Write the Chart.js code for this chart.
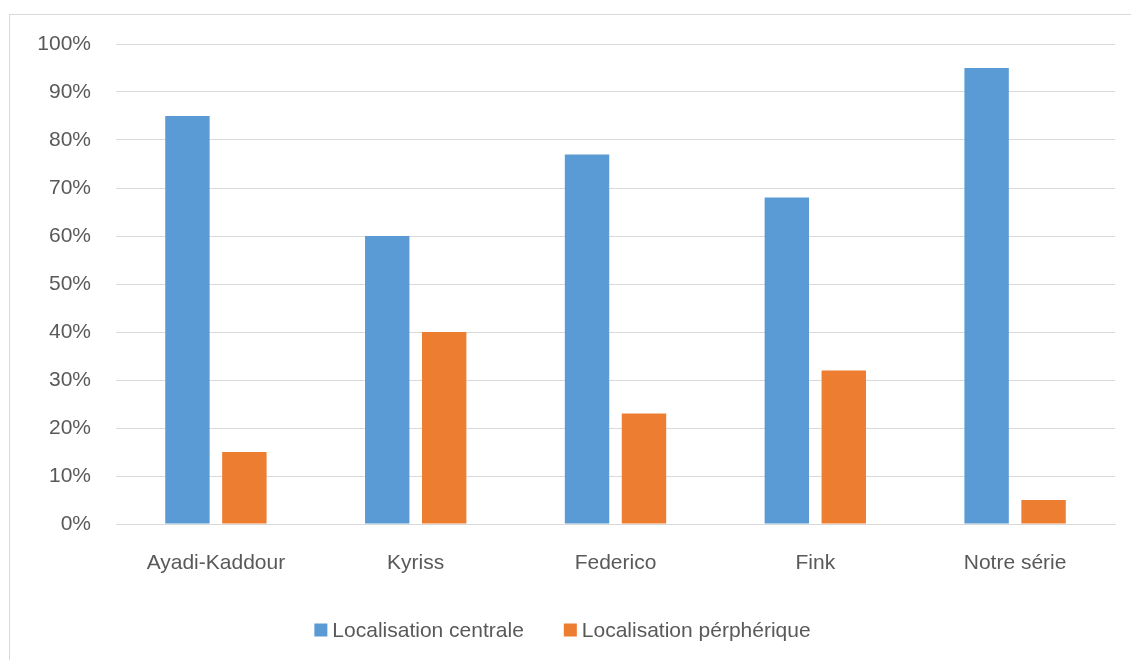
<!DOCTYPE html>
<html>
<head>
<meta charset="utf-8">
<script src="https://cdn.jsdelivr.net/npm/chart.js@4.4.1/dist/chart.umd.min.js"></script>
<style>
  html, body { margin: 0; padding: 0; background: #ffffff; }
  #wrap { position: relative; width: 1131px; height: 660px; overflow: hidden; }
  #frame { position: absolute; left: 9px; top: 14px; width: 1140px; height: 660px;
           border: 1px solid #d9d9d9; box-sizing: border-box; }
  #c { position: absolute; left: 0; top: 0; }
</style>
</head>
<body>
<div id="wrap">
  <div id="frame"></div>
  <canvas id="c" width="1131" height="660"></canvas>
</div>
<script>
const categories = ['Ayadi-Kaddour', 'Kyriss', 'Federico', 'Fink', 'Notre série'];
const centrale = [85, 60, 77, 68, 95];
const peripherique = [15, 40, 23, 32, 5];
const seriesNames = ['Localisation centrale', 'Localisation pérphérique'];
const seriesColors = ['#5b9bd5', '#ed7d31'];
const yTicks = [0, 10, 20, 30, 40, 50, 60, 70, 80, 90, 100];

const FONT = "'Liberation Sans', Arial, sans-serif";
const FONT_SIZE = 21;
const TEXT = '#595959';

// Legend row drawn under the axis: square swatch, short gap, series name
const bottomLegend = {
  id: 'bottomLegend',
  afterDraw(chart) {
    const ctx = chart.ctx;
    const box = 13, gap = 5, itemGap = 40, cy = 630;
    ctx.save();
    ctx.font = FONT_SIZE + 'px ' + FONT;
    ctx.textBaseline = 'middle';
    ctx.textAlign = 'left';
    const items = chart.data.datasets.map(ds => ({
      text: ds.label, color: ds.backgroundColor, w: ctx.measureText(ds.label).width
    }));
    let total = 0;
    items.forEach((it, i) => { total += box + gap + it.w + (i ? itemGap : 0); });
    let x = chart.width / 2 - 3 - total / 2;
    items.forEach(it => {
      ctx.fillStyle = it.color;
      ctx.fillRect(x, cy - box / 2, box, box);
      x += box + gap;
      ctx.fillStyle = TEXT;
      ctx.fillText(it.text, x, cy + 1);
      x += it.w + itemGap;
    });
    ctx.restore();
  }
};

new Chart(document.getElementById('c'), {
  type: 'bar',
  data: {
    labels: categories,
    datasets: [
      { label: seriesNames[0], data: centrale, backgroundColor: seriesColors[0] },
      { label: seriesNames[1], data: peripherique, backgroundColor: seriesColors[1] }
    ]
  },
  options: {
    responsive: false,
    animation: false,
    layout: { padding: { left: 0, right: 16, top: 44, bottom: 0 } },
    datasets: { bar: { categoryPercentage: 0.57, barPercentage: 0.78 } },
    plugins: {
      tooltip: { enabled: false },
      legend: { display: false }
    },
    scales: {
      x: {
        grid: { display: false, drawTicks: false },
        border: { display: true, color: '#d9d9d9', width: 1 },
        ticks: { color: TEXT, font: { family: FONT, size: FONT_SIZE }, padding: 27 },
        afterFit: s => { s.height = 136; }
      },
      y: {
        min: 0, max: 100,
        afterBuildTicks: s => { s.ticks = yTicks.map(v => ({ value: v })); },
        grid: { color: '#d9d9d9', drawTicks: false },
        border: { display: false },
        ticks: { color: TEXT, font: { family: FONT, size: FONT_SIZE }, padding: 25,
                 callback: v => v + '%' },
        afterFit: s => { s.width = 116; }
      }
    }
  },
  plugins: [bottomLegend]
});
</script>
</body>
</html>
